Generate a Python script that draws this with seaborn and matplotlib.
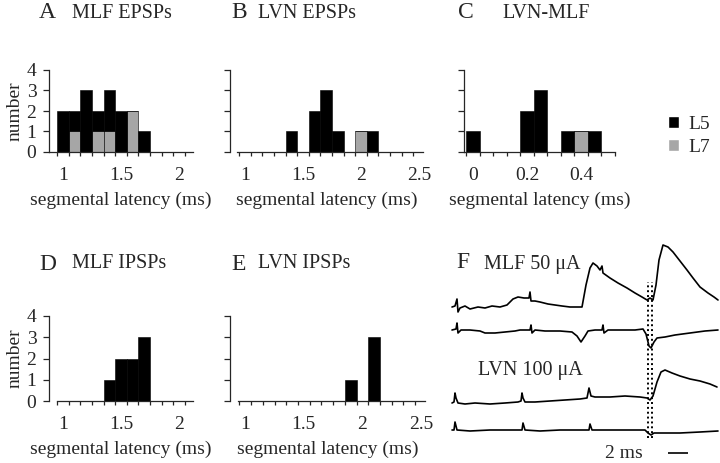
import numpy as np
import pandas as pd
import matplotlib
matplotlib.use("Agg")
import matplotlib.pyplot as plt
from matplotlib.patches import Patch
import seaborn as sns

# histogram data: bin centres (ms) and counts per lumbar segment
A_centers = [1.0, 1.1, 1.2, 1.3, 1.4, 1.5, 1.6, 1.7]
A_L5 = [2, 1, 3, 1, 2, 2, 0, 1]
A_L7 = [0, 1, 0, 1, 1, 0, 2, 0]

B_centers = [1.4, 1.6, 1.7, 1.8, 2.0, 2.1]
B_L5 = [1, 2, 3, 1, 0, 1]
B_L7 = [0, 0, 0, 0, 1, 0]

C_centers = [0.0, 0.2, 0.25, 0.35, 0.4, 0.45]
C_L5 = [1, 2, 3, 1, 0, 1]
C_L7 = [0, 0, 0, 0, 1, 0]

D_centers = [1.4, 1.5, 1.6, 1.7]
D_L5 = [1, 2, 2, 3]

E_centers = [1.9, 2.1]
E_L5 = [1, 3]

# panel F traces: time (ms) and amplitude (arbitrary units, relative to baseline)
mlf_intra_t = [0.2, 0.5, 0.7, 0.8, 1.0, 1.5, 2.0, 2.8, 3.5, 4.2, 5.0, 5.7, 6.3, 6.8, 7.4,
               7.9, 8.0, 8.1, 8.5, 9.0, 9.8, 10.5, 11.2, 12.0, 12.8, 13.2, 13.6, 14.0, 14.3, 14.7,
               15.0, 15.2, 15.3, 16.0, 16.8, 17.7, 18.5, 19.2, 19.7, 20.0, 20.3, 20.6, 20.9, 21.3, 21.8,
               22.3, 23.0, 23.7, 24.3, 25.0, 25.8, 26.4, 26.8]
mlf_intra_v = [0, 1, 8, -5, -1, 1, -2, 0, -1, 1, 0, 2, 8, 10, 9,
               9, 15, 6, 6, 5, 3, 2, 1, 0, 0, 0, 22, 39, 44, 41,
               37, 41, 34, 29, 24, 19, 14, 10, 7, 9, 7, 22, 47, 62, 60,
               55, 46, 37, 29, 20, 14, 10, 7]

mlf_extra_t = [0.2, 0.6, 0.7, 0.8, 1.1, 2.0, 3.0, 3.5, 4.5, 5.5, 6.5, 7.0, 8.0, 8.1, 8.2,
               8.5, 9.5, 11.0, 12.2, 12.7, 13.1, 13.5, 13.8, 14.5, 15.2, 15.3, 15.4, 15.8, 17.0, 18.5,
               19.3, 19.6, 19.9, 20.1, 20.4, 20.7, 21.5, 22.5, 24.0, 25.5, 26.8]
mlf_extra_v = [0, 1, 7, -3, 0, 0, -1, -3, -3, -2, -1, 0, 0, 5, -3,
               0, -1, -1, -2, -6, -12, -6, -1, 0, 0, 5, -3, 0, 0, 0,
               1, -4, -16, -18, -12, -8, -7, -5, -3, -1, 0]

lvn_intra_t = [0.2, 0.4, 0.5, 0.6, 0.8, 1.5, 2.5, 4.0, 5.5, 6.8, 7.1, 7.2, 7.3, 7.5, 8.5,
               10.0, 11.5, 13.0, 13.7, 13.9, 14.1, 14.5, 16.0, 17.5, 19.0, 19.7, 20.0, 20.3, 20.7, 21.1,
               21.5, 22.2, 23.0, 24.0, 25.0, 26.0, 26.7]
lvn_intra_v = [0, 1, 10, 5, 0, -1, 0, -1, 0, 1, 2, 10, 5, 1, 1,
               2, 3, 4, 5, 15, 7, 6, 6, 7, 6, 5, 3, 7, 21, 31,
               33, 30, 27, 24, 22, 19, 16]

lvn_extra_t = [0.2, 0.4, 0.5, 0.7, 2.0, 4.0, 6.0, 7.2, 7.3, 7.5, 9.0, 11.0, 13.0, 13.9, 14.0,
               14.2, 16.0, 18.0, 19.5, 19.8, 20.1, 20.4, 21.0, 23.0, 25.0, 26.8]
lvn_extra_v = [0, 0, 8, 0, -1, 0, 0, 0, 7, 0, -1, 0, 0, 0, 6,
               0, 0, 0, 0, -3, -5, -3, -3, -3, -2, -1]

W, H = 720, 463
GRAY = "#a6a6a6"

sns.set_style("ticks")
plt.rcParams["font.family"] = ["Liberation Serif", "DejaVu Serif"]
plt.rcParams["axes.linewidth"] = 0.9


def px_axes(fig, x0, x1, y0, y1):
    return fig.add_axes([x0 / W, 1 - y1 / H, (x1 - x0) / W, (y1 - y0) / H])


def ftext(fig, x, y, s, size, **kw):
    fig.text(x / W, 1 - y / H, s, fontsize=size, va="center", **kw)


def histogram(ax, centers, l5, l7, width, brange):
    df = pd.DataFrame({
        "latency": centers * 2,
        "level": ["L5"] * len(centers) + ["L7"] * len(centers),
        "count": l5 + (l7 if l7 else [0] * len(centers)),
    })
    sns.histplot(data=df, x="latency", weights="count", hue="level",
                 hue_order=["L5", "L7"], multiple="stack", binwidth=width,
                 binrange=brange, palette={"L5": "black", "L7": GRAY},
                 alpha=1, edgecolor="black", linewidth=0.4, legend=False, ax=ax)


def style(ax, xlim, bounds, minor, labels, ylabels):
    ax.set_xlim(*xlim)
    ax.set_ylim(0, 4)
    sns.despine(ax=ax)
    ax.spines["bottom"].set_bounds(*bounds)
    ax.set_xticks(labels)
    ax.set_xticklabels([f"{v:g}" for v in labels], fontsize=14)
    ax.set_xticks(minor, minor=True)
    ax.tick_params(axis="x", which="major", length=0, pad=11)
    ax.tick_params(axis="x", which="minor", length=3, width=0.9)
    ax.set_yticks([0, 1, 2, 3, 4])
    ax.tick_params(axis="y", length=4, width=0.9, pad=5)
    if ylabels:
        ax.set_yticklabels(["0", "1", "2", "3", "4"], fontsize=14)
    else:
        ax.set_yticklabels([])
    ax.set_ylabel("")
    ax.set_xlabel("segmental latency (ms)", fontsize=14, labelpad=5)


fig = plt.figure(figsize=(7.2, 4.63), dpi=100)

# A
ax = px_axes(fig, 49, 193, 70, 152)
histogram(ax, A_centers, A_L5, A_L7, 0.1, (0.95, 1.75))
style(ax, (0.879, 2.12), (0.879, 2.12), np.arange(0.95, 2.1, 0.1), [1, 1.5, 2], True)

# B
ax = px_axes(fig, 230, 423, 70, 152)
histogram(ax, B_centers, B_L5, B_L7, 0.1, (1.35, 2.15))
style(ax, (0.87, 2.534), (0.93, 2.534), np.arange(0.95, 2.5, 0.1), [1, 1.5, 2, 2.5], False)

# C
ax = px_axes(fig, 464, 615, 70, 152)
histogram(ax, C_centers, C_L5, C_L7, 0.05, (-0.025, 0.475))
style(ax, (-0.0325, 0.525), (-0.0325, 0.525), np.arange(-0.025, 0.53, 0.05), [0, 0.2, 0.4], False)

# D
ax = px_axes(fig, 49, 193, 316, 401)
histogram(ax, D_centers, D_L5, None, 0.1, (1.35, 1.75))
style(ax, (0.879, 2.12), (0.95, 2.12), np.arange(0.95, 2.1, 0.1), [1, 1.5, 2], True)

# E
ax = px_axes(fig, 230, 425, 316, 401)
histogram(ax, E_centers, E_L5, None, 0.1, (1.85, 2.15))
style(ax, (0.87, 2.534), (0.94, 2.534), np.arange(0.95, 2.5, 0.1), [1, 1.5, 2, 2.5], False)

# legend
fig.legend(handles=[Patch(facecolor="black"), Patch(facecolor=GRAY)],
           labels=["L5", "L7"], loc="center left",
           bbox_to_anchor=(668 / W, 1 - 136 / H), frameon=False, fontsize=14,
           borderpad=0, borderaxespad=0,
           handlelength=0.55, handleheight=0.55, handletextpad=0.5, labelspacing=0.3)

# panel titles
ftext(fig, 39, 13, "A", 17)
ftext(fig, 72, 13, "MLF EPSPs", 14.5)
ftext(fig, 231, 13, "B", 17)
ftext(fig, 258, 13, "LVN EPSPs", 14.5)
ftext(fig, 458, 13, "C", 17)
ftext(fig, 502, 13, "LVN-MLF", 14.5)
ftext(fig, 39, 264, "D", 17)
ftext(fig, 72, 264, "MLF IPSPs", 14.5)
ftext(fig, 231, 264, "E", 17)
ftext(fig, 258, 264, "LVN IPSPs", 14.5)
ftext(fig, 456, 263, "F", 17)
ftext(fig, 484, 265, "MLF 50 μA", 14.5)
ftext(fig, 478, 370, "LVN 100 μA", 14.5)
ftext(fig, 15, 111, "number", 14, rotation=90, ha="center")
ftext(fig, 15, 358, "number", 14, rotation=90, ha="center")

# F: traces
axF = px_axes(fig, 450, 720, 240, 463)
axF.set_xlim(0, 27)
axF.set_ylim(0, 223)
axF.axis("off")
traces = [(mlf_intra_t, mlf_intra_v, 156), (mlf_extra_t, mlf_extra_v, 133),
          (lvn_intra_t, lvn_intra_v, 60), (lvn_extra_t, lvn_extra_v, 33)]
for t, v, base in traces:
    sns.lineplot(x=t, y=np.array(v) + base, sort=False, estimator=None,
                 color="black", lw=1.2, ax=axF)
axF.vlines([19.83, 20.17], 25, 181, colors="black", lw=1.4, linestyles=(0, (1, 1.5)))
axF.hlines(10, 21.8, 23.8, colors="black", lw=1.2)
axF.text(19.3, 10, "2 ms", fontsize=14, ha="right", va="center")

fig.savefig("out.png", dpi=100)
